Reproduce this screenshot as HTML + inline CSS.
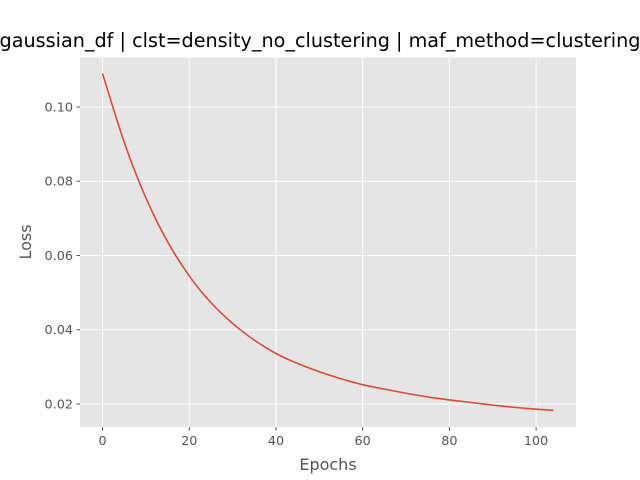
<!DOCTYPE html>
<html><head><meta charset="utf-8"><style>
body{margin:0;background:#fff;}
svg{display:block;font-family:"DejaVu Sans","Liberation Sans",sans-serif;}
</style></head><body>
<svg id="chart" width="640" height="480">
<rect x="0" y="0" width="640" height="480" fill="#fff"/>
<rect x="80" y="57.6" width="496" height="369.6" fill="#e5e5e5"/>
<g id="grid"></g>
<g id="ticks"></g>
<path id="line" fill="none" stroke="#e24a33" stroke-width="1.6"/>
<text x="320" y="47" text-anchor="middle" font-size="19.2" fill="#000">gaussian_df | clst=density_no_clustering | maf_method=clustering</text>
<text x="328" y="470" text-anchor="middle" font-size="16" fill="#555">Epochs</text>
<text transform="translate(31,242) rotate(-90)" text-anchor="middle" font-size="16" fill="#555">Loss</text>
</svg>
<script>
const epochs=[0,5,10,15,20,25,30,35,40,45,50,55,60,65,70,75,80,85,90,95,100,104];
const losses=[0.109,0.0905,0.0755,0.0637,0.0545,0.0473,0.0417,0.0372,0.0336,0.0309,0.0287,0.0268,0.0252,0.024,0.0229,0.0219,0.0211,0.0204,0.0197,0.0191,0.0186,0.0183];
const xTicks=[0,20,40,60,80,100];
const yTicks=[0.02,0.04,0.06,0.08,0.10];
const yTickLabels=["0.02","0.04","0.06","0.08","0.10"];
const L=80,R=576,T=57.6,B=427.2;
const xMin=-5.2,xMax=109.2,yMin=0.01375,yMax=0.1133;
const sx=v=>L+(v-xMin)/(xMax-xMin)*(R-L);
const sy=v=>B-(v-yMin)/(yMax-yMin)*(B-T);
const NS="http://www.w3.org/2000/svg";
const grid=document.getElementById('grid'),ticks=document.getElementById('ticks');
function mk(tag,attrs,parent){const e=document.createElementNS(NS,tag);for(const k in attrs)e.setAttribute(k,attrs[k]);parent.appendChild(e);return e;}
xTicks.forEach(v=>{
 const g=mk('line',{x1:sx(v),x2:sx(v),y1:T,y2:B,stroke:'#fff','stroke-width':1},grid);
 
 
 const t=mk('line',{x1:sx(v),x2:sx(v),y1:B,y2:B+3.5,stroke:'#555'},ticks);
 
 
 const l=mk('text',{x:sx(v),y:B+18,'text-anchor':'middle','font-size':12.8,fill:'#555'},ticks);
 l.textContent=v;
 
 
});
yTicks.forEach((v,i)=>{
 const g=mk('line',{x1:L,x2:R,y1:sy(v),y2:sy(v),stroke:'#fff','stroke-width':1},grid);
 
 
 const t=mk('line',{x1:L-3.5,x2:L,y1:sy(v),y2:sy(v),stroke:'#555'},ticks);
 
 
 const l=mk('text',{x:L-7,y:sy(v)+4.5,'text-anchor':'end','font-size':12.8,fill:'#555'},ticks);
 l.textContent=yTickLabels[i];
 
 
});
const pts=epochs.map((e,i)=>[sx(e),sy(losses[i])]);
let d='M'+pts[0][0].toFixed(2)+','+pts[0][1].toFixed(2);
for(let i=0;i<pts.length-1;i++){
 const p0=pts[Math.max(0,i-1)],p1=pts[i],p2=pts[i+1],p3=pts[Math.min(pts.length-1,i+2)];
 const c1=[p1[0]+(p2[0]-p0[0])/6,p1[1]+(p2[1]-p0[1])/6];
 const c2=[p2[0]-(p3[0]-p1[0])/6,p2[1]-(p3[1]-p1[1])/6];
 d+='C'+c1[0].toFixed(2)+','+c1[1].toFixed(2)+' '+c2[0].toFixed(2)+','+c2[1].toFixed(2)+' '+p2[0].toFixed(2)+','+p2[1].toFixed(2);
}
document.getElementById('line').setAttribute('d',d);
</script>
</body></html>
